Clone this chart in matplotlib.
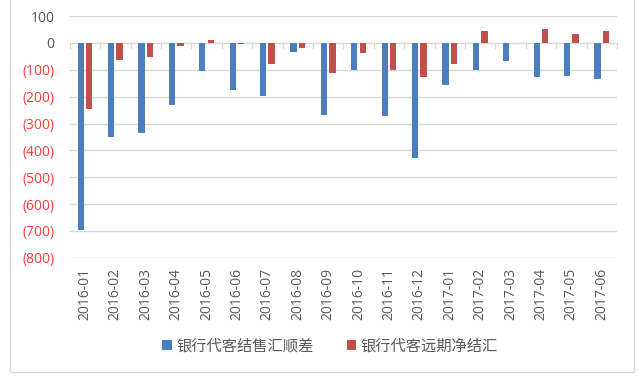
import matplotlib
matplotlib.use("Agg")
import matplotlib.pyplot as plt
from matplotlib.patches import Rectangle
from matplotlib.ticker import FuncFormatter
import numpy as np

plt.rcParams['font.family'] = ['Open Sans', 'Noto Sans CJK SC', 'DejaVu Sans']

# data (100 million USD)
months = ['2016-01', '2016-02', '2016-03', '2016-04', '2016-05', '2016-06',
          '2016-07', '2016-08', '2016-09', '2016-10', '2016-11', '2016-12',
          '2017-01', '2017-02', '2017-03', '2017-04', '2017-05', '2017-06']
spot_net = [-695, -349, -337, -232, -104, -176, -198, -33, -269, -101,
            -272, -429, -157, -101, -69, -128, -123, -135]
forward_net = [-245, -62, -54, -11, 12, -5, -79, -18, -113, -39,
               -101, -128, -79, 45, 0, 50, 35, 44]
series_names = ['银行代客结售汇顺差', '银行代客远期净结汇']

blue = '#4a7ebf'
red = '#c0504d'

fig = plt.figure(figsize=(6.4, 3.82), dpi=100)
ax = fig.add_axes([0.109, 0.325, 0.855, 0.633])

x = np.arange(len(months))
w = 0.21
ax.bar(x - 0.14, spot_net, w, color=blue, label=series_names[0], zorder=3)
ax.bar(x + 0.14, forward_net, w, color=red, label=series_names[1], zorder=3)

ax.set_xlim(-0.5, len(months) - 0.5)
ax.set_ylim(-800, 100)
ax.set_yticks(range(-800, 101, 100))
ax.yaxis.set_major_formatter(FuncFormatter(
    lambda v, p: f'({abs(int(v))})' if v < 0 else f'{int(v)}'))
for lab, v in zip(ax.get_yticklabels(), ax.get_yticks()):
    lab.set_color('#ff3b3b' if v < 0 else '#595959')
ax.tick_params(axis='y', length=0, labelsize=10, pad=11)
ax.grid(axis='y', color='#d9d9d9', lw=1, zorder=0)

ax.set_xticks(x)
ax.set_xticklabels(months, rotation=90, fontsize=10, color='#595959')
ax.tick_params(axis='x', length=0, pad=7)
for s in ax.spines.values():
    s.set_visible(False)

# category axis along zero with boundary ticks
sec = ax.secondary_xaxis(0, transform=ax.transData)
sec.set_xticks(np.arange(-0.5, len(months), 1.0))
sec.set_xticklabels([])
sec.tick_params(length=4, color='#d9d9d9', direction='out')
sec.spines['bottom'].set_color('#d9d9d9')

fig.legend(loc='center', bbox_to_anchor=(0.516, 0.092), ncol=2, frameon=False,
           handlelength=0.6, handleheight=0.6, handletextpad=0.3,
           columnspacing=2.2, fontsize=11, labelcolor='#595959')

fig.patches.append(Rectangle((10 / 640, 10 / 382), 624 / 640, 1.0,
                             transform=fig.transFigure, fill=False,
                             edgecolor='#d9d9d9', lw=1))

fig.savefig('out.png', dpi=100)
